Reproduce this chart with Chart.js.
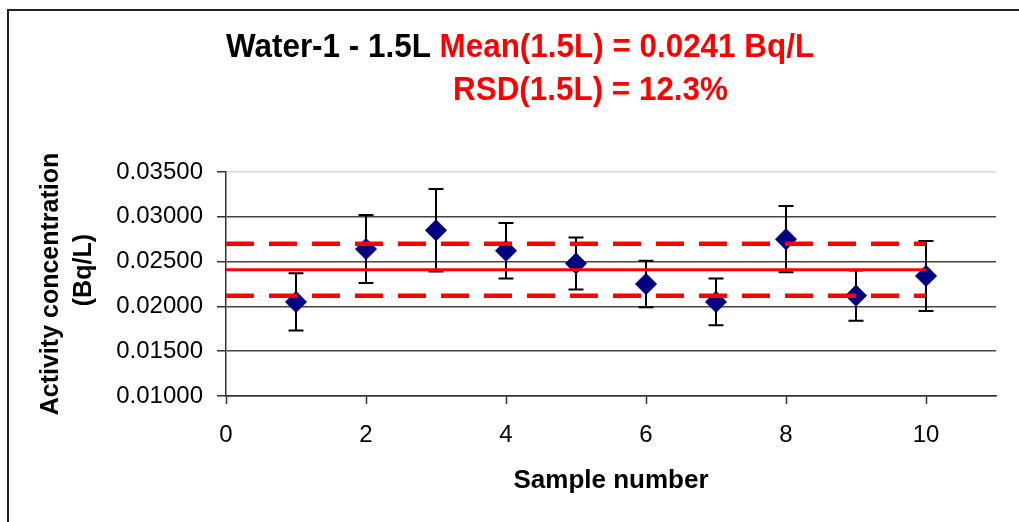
<!DOCTYPE html>
<html>
<head>
<meta charset="utf-8">
<title>Water-1 - 1.5L</title>
<script src="https://cdn.jsdelivr.net/npm/chart.js@4.4.0/dist/chart.umd.min.js"></script>
<style>
    html, body { margin: 0; padding: 0; background: #fff; }
    #wrap { width: 1019px; height: 522px; }
</style>
</head>
<body>
<div id="wrap"><canvas id="waterChart" width="1019" height="522"></canvas></div>
<script>
// Data
const SAMPLES = [1, 2, 3, 4, 5, 6, 7, 8, 9, 10];
const ACTIVITY = [0.0205, 0.0264, 0.0285, 0.0262, 0.0248, 0.0225, 0.0205, 0.0275, 0.0212, 0.0234];
const UNCERTAINTY = [0.0032, 0.0038, 0.0046, 0.0031, 0.0029, 0.0026, 0.0026, 0.0037, 0.0028, 0.0039];

const MEAN_VALUE = 0.0241;
const UPPER_LIMIT = 0.0270;
const LOWER_LIMIT = 0.0212;
const LINE_SPAN = [0, 10];

const X_TICKS = [0, 2, 4, 6, 8, 10];
const Y_TICKS = [0.010, 0.015, 0.020, 0.025, 0.030, 0.035];

const TITLE_LINE1 = [
    { text: 'Water-1 - 1.5L ', color: '#000000' },
    { text: 'Mean(1.5L) = 0.0241 Bq/L', color: '#ff0000' }
];
const TITLE_LINE2 = [
    { text: 'RSD(1.5L) = 12.3%', color: '#ff0000' }
];

const FONT = '"Liberation Sans", Arial, sans-serif';

// Frame + white background
const framePlugin = {
    id: 'frame',
    beforeDraw(chart) {
        const ctx = chart.ctx;
        ctx.save();
        ctx.fillStyle = '#ffffff';
        ctx.fillRect(0, 0, chart.width, chart.height);
        ctx.strokeStyle = '#222222';
        ctx.lineWidth = 2;
        ctx.strokeRect(8, 10, chart.width + 20, chart.height + 20);
        ctx.restore();
    }
};

// Mixed-colour title drawn as text
const titlePlugin = {
    id: 'mixedTitle',
    afterDraw(chart) {
        const ctx = chart.ctx;
        const sx = 0.924;
        const drawLine = (parts, x, y) => {
            ctx.save();
            ctx.translate(x, y);
            ctx.scale(sx, 1);
            ctx.font = 'bold 34px ' + FONT;
            ctx.textBaseline = 'alphabetic';
            ctx.textAlign = 'left';
            let cx = 0;
            parts.forEach(p => {
                ctx.fillStyle = p.color;
                ctx.fillText(p.text, cx, 0);
                cx += ctx.measureText(p.text).width;
            });
            ctx.restore();
        };
        drawLine(TITLE_LINE1, 226, 57);
        drawLine(TITLE_LINE2, 453, 100);
    }
};

// Error bars under the markers
const errorBarPlugin = {
    id: 'errorBars',
    beforeDatasetsDraw(chart) {
        const ctx = chart.ctx;
        const xs = chart.scales.x;
        const ys = chart.scales.y;
        ctx.save();
        ctx.strokeStyle = '#000000';
        ctx.lineWidth = 2;
        SAMPLES.forEach((s, i) => {
            const px = xs.getPixelForValue(s);
            const top = ys.getPixelForValue(ACTIVITY[i] + UNCERTAINTY[i]);
            const bot = ys.getPixelForValue(ACTIVITY[i] - UNCERTAINTY[i]);
            ctx.beginPath();
            ctx.moveTo(px, top);
            ctx.lineTo(px, bot);
            ctx.moveTo(px - 7.5, top);
            ctx.lineTo(px + 7.5, top);
            ctx.moveTo(px - 7.5, bot);
            ctx.lineTo(px + 7.5, bot);
            ctx.stroke();
        });
        ctx.restore();
    }
};

function levelLine(value, width, dash) {
    return {
        type: 'line',
        data: LINE_SPAN.map(x => ({ x: x, y: value })),
        borderColor: '#ff0000',
        borderWidth: width,
        borderDash: dash,
        pointRadius: 0,
        fill: false,
        order: 0
    };
}

new Chart(document.getElementById('waterChart'), {
    type: 'scatter',
    data: {
        datasets: [
            levelLine(MEAN_VALUE, 3, []),
            levelLine(UPPER_LIMIT, 4.5, [28, 15]),
            levelLine(LOWER_LIMIT, 4.5, [28, 15]),
            {
                type: 'scatter',
                data: SAMPLES.map((s, i) => ({ x: s, y: ACTIVITY[i] })),
                pointStyle: 'rectRot',
                pointRadius: 10.5,
                backgroundColor: '#000080',
                borderColor: '#000080',
                borderWidth: 1,
                order: 1
            }
        ]
    },
    options: {
        responsive: false,
        animation: false,
        layout: {
            padding: { left: 10, top: 172, right: 23, bottom: 0 }
        },
        plugins: {
            legend: { display: false },
            tooltip: { enabled: false },
            title: { display: false }
        },
        scales: {
            x: {
                type: 'linear',
                min: 0,
                max: 11,
                afterBuildTicks: scale => { scale.ticks = X_TICKS.map(v => ({ value: v })); },
                afterFit: scale => { scale.height = 126; },
                grid: {
                    drawOnChartArea: false,
                    drawTicks: true,
                    tickLength: 8,
                    tickColor: '#333333',
                    tickWidth: 1.5
                },
                border: { color: '#333333', width: 1.5 },
                ticks: {
                    color: '#000000',
                    padding: 17,
                    font: { family: FONT, size: 24 },
                    callback: v => String(v)
                },
                title: {
                    display: true,
                    text: 'Sample number',
                    color: '#000000',
                    font: { family: FONT, size: 26, weight: 'bold' },
                    padding: { top: 0, bottom: 26 }
                }
            },
            y: {
                type: 'linear',
                min: 0.010,
                max: 0.035,
                afterBuildTicks: scale => { scale.ticks = Y_TICKS.map(v => ({ value: v })); },
                afterFit: scale => { scale.width = 216; },
                grid: {
                    color: ctx => (ctx.tick && Math.abs(ctx.tick.value - 0.035) < 1e-9) ? '#d9d9d9' : '#444444',
                    lineWidth: 1.5,
                    tickLength: 9,
                    tickColor: '#333333'
                },
                border: { color: '#333333', width: 1.5 },
                ticks: {
                    color: '#000000',
                    padding: 14,
                    font: { family: FONT, size: 24 },
                    callback: v => Number(v).toFixed(5)
                },
                title: {
                    display: true,
                    text: ['Activity concentration', '    (Bq/L)'],
                    color: '#000000',
                    font: { family: FONT, size: 25, weight: 'bold', lineHeight: 1.32 },
                    padding: { top: 25, bottom: 0 }
                }
            }
        }
    },
    plugins: [framePlugin, errorBarPlugin, titlePlugin]
});
</script>
</body>
</html>
